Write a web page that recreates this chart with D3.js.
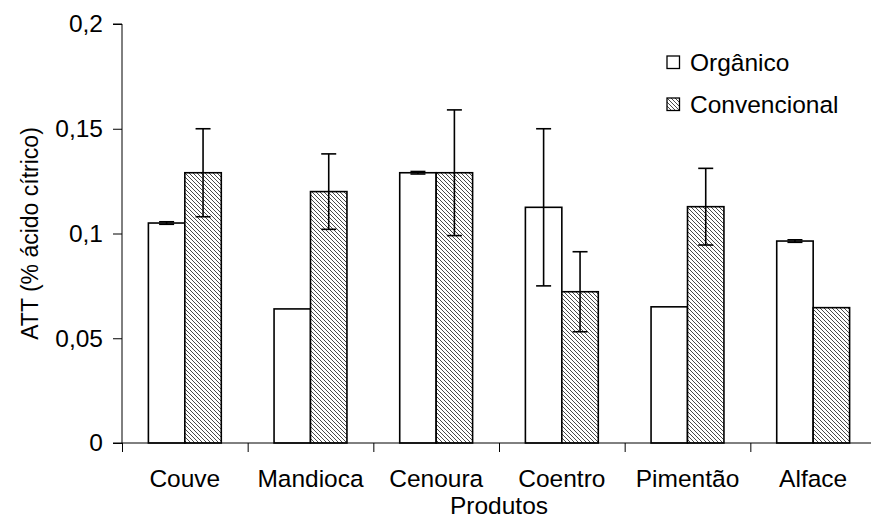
<!DOCTYPE html>
<html>
<head>
<meta charset="utf-8">
<script src="https://cdn.jsdelivr.net/npm/d3@7"></script>
<style>
  html, body { margin: 0; padding: 0; background: #fff; }
  svg { display: block; font-family: "Liberation Sans", Arial, sans-serif; }
</style>
</head>
<body>
<svg id="chart" width="871" height="521"></svg>
<script>
// Titratable acidity per product, organic vs conventional
const categories = ["Couve", "Mandioca", "Cenoura", "Coentro", "Pimentão", "Alface"];
const series = ["Orgânico", "Convencional"];
const organico = [0.105, 0.064, 0.129, 0.1125, 0.065, 0.0964];
const organicoErr = [0.0006, 0, 0.0006, 0.0375, 0, 0.0006];
const convencional = [0.129, 0.120, 0.129, 0.0722, 0.1128, 0.0646];
const convencionalErr = [0.021, 0.018, 0.030, 0.0191, 0.0183, 0];
const yTicks = [0, 0.05, 0.1, 0.15, 0.2];
const yTickLabels = ["0", "0,05", "0,1", "0,15", "0,2"];
const yTitle = "ATT (% ácido cítrico)";
const xTitle = "Produtos";

const svg = d3.select("#chart");
const plotL = 122, plotR = 876, plotT = 24, plotB = 443;
const fontSize = 24.5;
const FONT = "Liberation Sans, Arial, sans-serif";

// hatch for the conventional bars
const defs = svg.append("defs");
const pat = defs.append("pattern")
  .attr("id", "hatch")
  .attr("patternUnits", "userSpaceOnUse")
  .attr("width", 4).attr("height", 4);
pat.append("rect").attr("width", 4).attr("height", 4).attr("fill", "#fff");
pat.append("path")
  .attr("d", "M-1,-1L5,5M-1,3L1,5M3,-1L5,1")
  .attr("stroke", "#4a4a4a").attr("stroke-width", 1);

const y = d3.scaleLinear().domain([0, 0.2]).range([plotB, plotT]);
const x0 = d3.scaleBand().domain(categories).range([plotL, plotR]).padding(0);
const groupW = x0.bandwidth() * 0.58;
const x1 = d3.scaleBand().domain(series).range([0, groupW]).padding(0);
const groupX = c => x0(c) + (x0.bandwidth() - groupW) / 2;

const rows = [];
categories.forEach((c, i) => {
  rows.push({ c, s: series[0], v: organico[i], e: organicoErr[i] });
  rows.push({ c, s: series[1], v: convencional[i], e: convencionalErr[i] });
});

// bars
svg.append("g").selectAll("rect").data(rows).join("rect")
  .attr("x", d => groupX(d.c) + x1(d.s))
  .attr("y", d => y(d.v))
  .attr("width", x1.bandwidth())
  .attr("height", d => y(0) - y(d.v))
  .attr("fill", d => d.s === series[0] ? "#fff" : "url(#hatch)")
  .attr("stroke", "#000")
  .attr("stroke-width", 1.6);

// error bars
const capW = 15;
const eg = svg.append("g").attr("stroke", "#000").attr("stroke-width", 1.6);
rows.filter(d => d.e > 0).forEach(d => {
  const cx = groupX(d.c) + x1(d.s) + x1.bandwidth() / 2;
  const y1 = y(d.v + d.e), y2 = y(d.v - d.e);
  eg.append("line").attr("x1", cx).attr("x2", cx).attr("y1", y1).attr("y2", y2);
  eg.append("line").attr("x1", cx - capW / 2).attr("x2", cx + capW / 2).attr("y1", y1).attr("y2", y1);
  eg.append("line").attr("x1", cx - capW / 2).attr("x2", cx + capW / 2).attr("y1", y2).attr("y2", y2);
});

// y axis
const yAxis = d3.axisLeft(y).tickValues(yTicks)
  .tickFormat((d, i) => yTickLabels[i]).tickSize(9).tickPadding(10);
const gy = svg.append("g").attr("transform", `translate(${plotL},0)`).call(yAxis);
gy.select(".domain").attr("d", `M-9,${plotT}H0V${plotB}H-9`).attr("stroke", "#000").attr("stroke-width", 1);
gy.selectAll(".tick line").attr("stroke", "#000");
gy.selectAll(".tick text").attr("font-size", fontSize).attr("fill", "#000")
  .attr("font-family", FONT);

// x axis: boundary ticks plus centred category labels
const xEdge = d3.scaleLinear().domain([0, categories.length]).range([plotL, plotR]);
const gxt = svg.append("g").attr("transform", `translate(0,${plotB})`)
  .call(d3.axisBottom(xEdge).ticks(categories.length).tickSize(9).tickFormat(""));
gxt.select(".domain").attr("d", `M${plotL},0H${plotR}`).attr("stroke", "#000");
gxt.selectAll(".tick line").attr("stroke", "#000");

const gx = svg.append("g").attr("transform", `translate(0,${plotB})`)
  .call(d3.axisBottom(x0).tickSize(0).tickPadding(27));
gx.select(".domain").remove();
gx.selectAll(".tick text").attr("font-size", fontSize).attr("fill", "#000")
  .attr("font-family", FONT);

// axis titles
svg.append("text")
  .attr("transform", `translate(38,${(plotT + plotB) / 2}) rotate(-90)`)
  .attr("text-anchor", "middle").attr("font-size", 23).text(yTitle);
svg.append("text")
  .attr("x", (plotL + plotR) / 2).attr("y", 514)
  .attr("text-anchor", "middle").attr("font-size", fontSize).text(xTitle);

// legend
const lg = svg.append("g").attr("transform", "translate(667,56)");
series.forEach((s, i) => {
  const row = lg.append("g").attr("transform", `translate(0,${i * 42})`);
  row.append("rect").attr("width", 12.5).attr("height", 12.5)
    .attr("fill", i === 0 ? "#fff" : "url(#hatch)")
    .attr("stroke", "#000").attr("stroke-width", 1.3);
  row.append("text").attr("x", 23).attr("y", 14.5)
    .attr("font-size", fontSize).text(s);
});
</script>
</body>
</html>
